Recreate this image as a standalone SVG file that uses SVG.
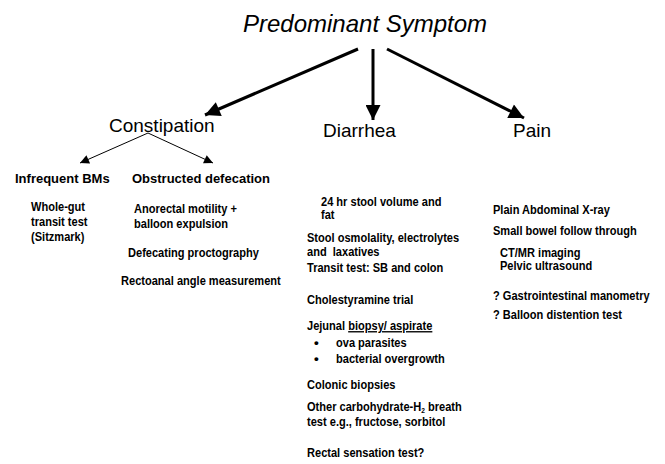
<svg xmlns="http://www.w3.org/2000/svg" width="665" height="464" viewBox="0 0 665 464">
<style>
.title{font-family:"Liberation Sans",Arial,sans-serif;font-style:italic;font-size:24px;fill:#000}
.cat{font-family:"Liberation Sans",Arial,sans-serif;font-size:19px;fill:#000}
.sub{font-family:"Liberation Sans",Arial,sans-serif;font-weight:bold;font-size:13px;fill:#000}
.b{font-family:"Liberation Sans Narrow","Liberation Sans",Arial,sans-serif;font-weight:bold;font-size:13.5px;fill:#000}
.main{stroke:#000;stroke-width:3;fill:none}
.thin{stroke:#000;stroke-width:1;fill:none}
</style>
<defs>
<marker id="big" viewBox="0 0 10 10" refX="10" refY="5" markerUnits="userSpaceOnUse" markerWidth="19" markerHeight="15" orient="auto">
<path d="M0,0 L10,5 L0,10 Z" fill="#000"/>
</marker>
<marker id="small" viewBox="0 0 10 10" refX="10" refY="5" markerUnits="userSpaceOnUse" markerWidth="10" markerHeight="9" orient="auto">
<path d="M0,0 L10,5 L0,10 Z" fill="#000"/>
</marker>
</defs>
<rect width="665" height="464" fill="#fff"/>
<g id="connectors">
<line class="main" x1="358" y1="49" x2="205" y2="115" marker-end="url(#big)"/>
<line class="main" x1="373" y1="49" x2="373" y2="120" marker-end="url(#big)"/>
<line class="main" x1="387" y1="49" x2="524" y2="118" marker-end="url(#big)"/>
<line class="thin" x1="148" y1="133" x2="80" y2="163" marker-end="url(#small)"/>
<line class="thin" x1="148" y1="133" x2="213" y2="163" marker-end="url(#small)"/>
</g>
<g id="title"><text class="title" x="243" y="32">Predominant Symptom</text></g>
<g id="constipation"><text class="cat" x="109" y="132">Constipation</text></g>
<g id="diarrhea"><text class="cat" x="323" y="137">Diarrhea</text></g>
<g id="pain"><text class="cat" x="513" y="137">Pain</text></g>
<g id="infrequent">
<text class="sub" x="15" y="183">Infrequent BMs</text>
<text class="b" transform="translate(31 211) scale(0.82 1)">Whole-gut</text>
<text class="b" transform="translate(31 226) scale(0.82 1)">transit test</text>
<text class="b" transform="translate(31 241) scale(0.82 1)">(Sitzmark)</text>
</g>
<g id="obstructed">
<text class="sub" x="132" y="183">Obstructed defecation</text>
<text class="b" transform="translate(134 213) scale(0.82 1)">Anorectal motility +</text>
<text class="b" transform="translate(134 228) scale(0.82 1)">balloon expulsion</text>
<text class="b" transform="translate(128 257) scale(0.82 1)">Defecating proctography</text>
<text class="b" transform="translate(121 285) scale(0.82 1)">Rectoanal angle measurement</text>
</g>
<g id="diarrhea-tests">
<text class="b" transform="translate(321 206) scale(0.82 1)">24 hr stool volume and</text>
<text class="b" transform="translate(321 219) scale(0.82 1)">fat</text>
<text class="b" transform="translate(307 242) scale(0.82 1)">Stool osmolality, electrolytes</text>
<text class="b" transform="translate(307 256) scale(0.82 1)" style="white-space:pre">and  laxatives</text>
<text class="b" transform="translate(307 272) scale(0.82 1)">Transit test: SB and colon</text>
<text class="b" transform="translate(307 304) scale(0.82 1)">Cholestyramine trial</text>
<text class="b" transform="translate(307 330) scale(0.82 1)">Jejunal <tspan text-decoration="underline">biopsy/ aspirate</tspan></text>
<text class="b" x="314" y="347">•</text>
<text class="b" transform="translate(336 347) scale(0.82 1)">ova parasites</text>
<text class="b" x="314" y="363">•</text>
<text class="b" transform="translate(336 363) scale(0.82 1)">bacterial overgrowth</text>
<text class="b" transform="translate(307 389) scale(0.82 1)">Colonic biopsies</text>
<text class="b" transform="translate(307 411) scale(0.82 1)">Other carbohydrate-H<tspan font-size="8" dy="2">2</tspan><tspan dy="-2"> breath</tspan></text>
<text class="b" transform="translate(307 426) scale(0.82 1)">test e.g., fructose, sorbitol</text>
<text class="b" transform="translate(307 457) scale(0.82 1)">Rectal sensation test?</text>
</g>
<g id="pain-tests">
<text class="b" transform="translate(493 214) scale(0.82 1)">Plain Abdominal X-ray</text>
<text class="b" transform="translate(493 235) scale(0.82 1)">Small bowel follow through</text>
<text class="b" transform="translate(500 257) scale(0.82 1)">CT/MR imaging</text>
<text class="b" transform="translate(500 270) scale(0.82 1)">Pelvic ultrasound</text>
<text class="b" transform="translate(493 300) scale(0.82 1)">? Gastrointestinal manometry</text>
<text class="b" transform="translate(493 319) scale(0.82 1)">? Balloon distention test</text>
</g>
</svg>
